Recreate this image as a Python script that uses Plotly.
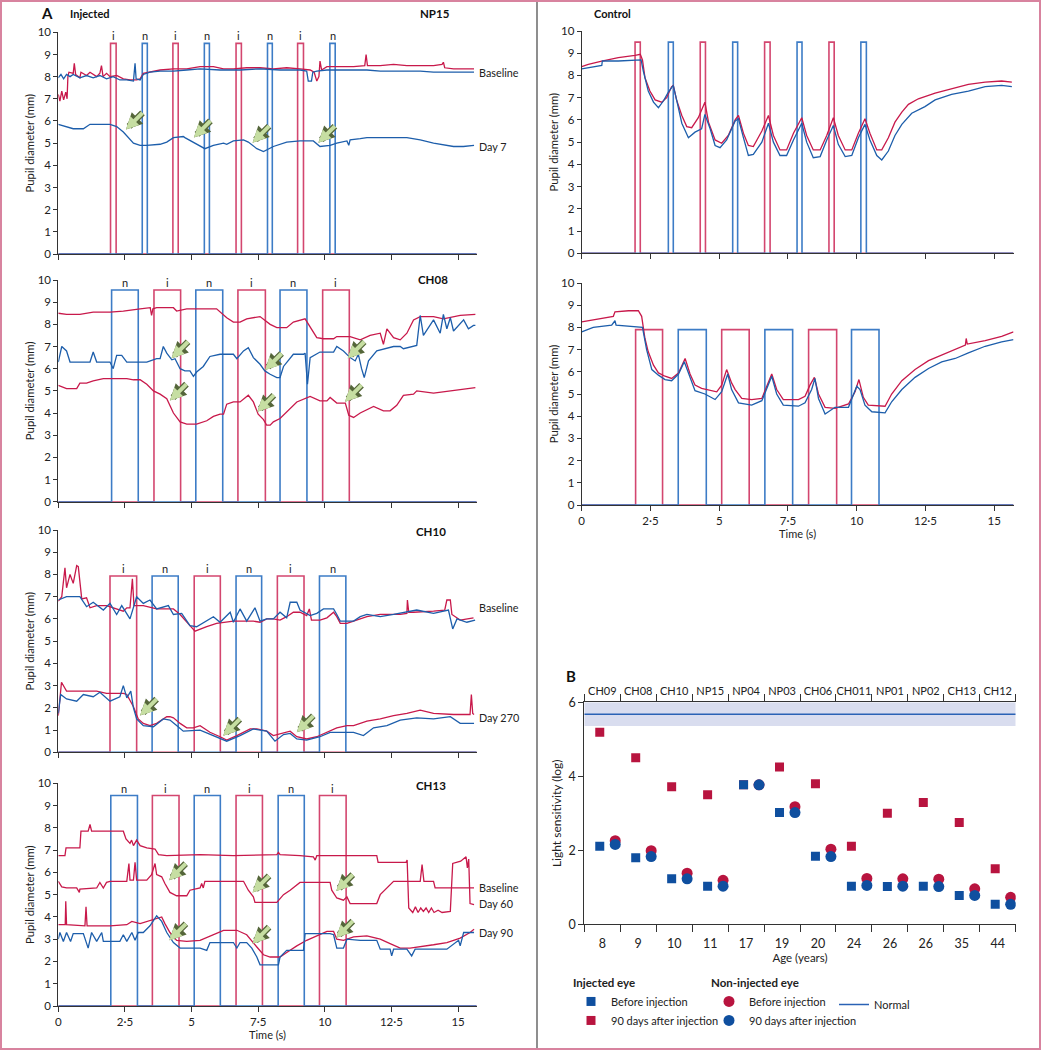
import plotly.graph_objects as go

# ---------------------------------------------------------------- data
TIME_TICKS = [0, 2.5, 5, 7.5, 10, 12.5, 15]
TIME_TICK_TEXT = ["0", "2·5", "5", "7·5", "10", "12·5", "15"]
T_MAX = 15.7

# stimulus pulses: (eye, onset s, offset s)
NP15_STIM = [("i", 1.96, 2.17), ("n", 3.15, 3.34), ("i", 4.30, 4.50), ("n", 5.48, 5.67),
             ("i", 6.67, 6.87), ("n", 7.85, 8.03), ("i", 8.98, 9.20), ("n", 10.19, 10.39)]
CH08_STIM = [("n", 2.00, 3.00), ("i", 3.59, 4.59), ("n", 5.16, 6.17), ("i", 6.74, 7.77),
             ("n", 8.32, 9.33), ("i", 9.92, 10.92)]
CH10_STIM = [("i", 1.94, 2.94), ("n", 3.52, 4.50), ("i", 5.10, 6.08), ("n", 6.67, 7.63),
             ("i", 8.22, 9.22), ("n", 9.80, 10.79)]
CH13_STIM = [("n", 1.97, 2.97), ("i", 3.53, 4.53), ("n", 5.10, 6.08), ("i", 6.67, 7.66),
             ("n", 8.25, 9.23), ("i", 9.80, 10.80)]
CTRL1_STIM = [("i", 1.94, 2.13), ("n", 3.15, 3.33), ("i", 4.31, 4.50), ("n", 5.49, 5.67),
              ("i", 6.65, 6.85), ("n", 7.83, 8.01), ("i", 8.99, 9.18), ("n", 10.15, 10.35)]
CTRL2_STIM = [("i", 1.96, 2.94), ("n", 3.51, 4.53), ("i", 5.09, 6.09), ("n", 6.66, 7.67),
              ("i", 8.25, 9.27), ("n", 9.81, 10.81)]
STIM_HEIGHT = {"NP15": 9.5, "CH08": 9.55, "CH10": 7.93, "CH13": 9.45, "CTRL1": 9.5, "CTRL2": 7.9}

# pupil traces: (time s, diameter mm)
NP15_BASELINE_RED = [(0, 7.2), (0.06, 6.9), (0.13, 7.35), (0.2, 6.95), (0.28, 7.3), (0.33, 7.0), (0.36, 8.0),
    (0.4, 8.2), (0.56, 8.15), (0.6, 8.6), (0.65, 8.1), (0.81, 7.95), (0.85, 8.2), (1.06, 8.05), (1.19, 8.2),
    (1.31, 8.1), (1.44, 8.0), (1.56, 8.15), (1.62, 8.5), (1.68, 8.0), (1.81, 8.15), (1.94, 8.0), (2.19, 8.05),
    (2.44, 7.9), (2.69, 7.85), (2.94, 7.85), (3.07, 7.9), (3.19, 8.15), (3.44, 8.2), (3.82, 8.3), (4.32, 8.35),
    (4.82, 8.35), (5.32, 8.45), (5.82, 8.45), (6.2, 8.35), (6.57, 8.35), (7.07, 8.4), (7.57, 8.4), (8.07, 8.35),
    (8.57, 8.4), (9.07, 8.35), (9.45, 8.3), (9.6, 8.2), (9.7, 7.8), (9.78, 8.0), (9.82, 8.7), (9.88, 8.3),
    (10.08, 8.45), (10.58, 8.45), (11.08, 8.45), (11.5, 8.5), (11.55, 9.0), (11.6, 8.5), (12.08, 8.5),
    (12.58, 8.55), (13.08, 8.5), (13.58, 8.5), (14.08, 8.5), (14.4, 8.55), (14.45, 8.65), (14.5, 8.4),
    (14.83, 8.35), (15.21, 8.35), (15.6, 8.35)]
NP15_BASELINE_BLUE = [(0, 7.95), (0.1, 8.1), (0.2, 7.9), (0.31, 8.1), (0.44, 8.0), (0.56, 8.1), (0.81, 7.95),
    (1.06, 8.05), (1.31, 7.95), (1.56, 8.05), (1.81, 7.9), (2.06, 8.0), (2.31, 7.85), (2.57, 7.85), (2.82, 7.8),
    (2.88, 8.6), (2.92, 7.9), (3.07, 7.85), (3.19, 8.1), (3.44, 8.2), (3.82, 8.25), (4.32, 8.25), (4.82, 8.3),
    (5.32, 8.35), (6.07, 8.3), (6.82, 8.3), (7.57, 8.35), (8.32, 8.3), (9.07, 8.3), (9.32, 8.25), (9.38, 7.8),
    (9.5, 7.8), (9.55, 8.2), (9.7, 8.25), (10.08, 8.3), (10.58, 8.3), (11.08, 8.3), (11.58, 8.3), (12.08, 8.25),
    (12.58, 8.25), (13.08, 8.25), (13.58, 8.25), (14.08, 8.2), (14.71, 8.2), (15.6, 8.2)]
NP15_DAY7_BLUE = [(0, 5.85), (0.31, 5.75), (0.56, 5.65), (0.94, 5.65), (1.19, 5.85), (1.94, 5.85), (2.19, 5.75),
    (2.44, 5.5), (2.82, 5.0), (3.07, 4.9), (3.32, 4.9), (3.82, 4.95), (4.07, 5.05), (4.32, 5.25), (4.69, 5.3),
    (4.75, 5.25), (5.19, 4.95), (5.5, 4.75), (5.82, 4.9), (6.2, 5.0), (6.32, 4.95), (6.57, 5.1), (6.95, 5.15),
    (7.13, 5.05), (7.45, 4.75), (7.7, 4.62), (8.07, 4.85), (8.57, 5.05), (9.07, 5.1), (9.57, 5.1), (9.82, 4.85),
    (10.2, 4.9), (10.45, 5.0), (10.83, 5.1), (10.9, 4.9), (10.95, 5.15), (11.33, 5.2), (11.58, 5.25),
    (12.08, 5.25), (13.08, 5.25), (13.58, 5.15), (14.08, 5.0), (14.83, 4.85), (15.2, 4.85), (15.6, 4.9)]

CH08_TOP_RED = [(0, 8.5), (0.31, 8.45), (0.81, 8.45), (1.31, 8.55), (1.94, 8.55), (2.44, 8.6), (3.07, 8.7),
    (3.45, 8.75), (3.5, 8.4), (3.55, 8.7), (3.69, 8.75), (4.32, 8.75), (4.44, 8.6), (4.82, 8.7), (5.94, 8.7),
    (6.07, 8.55), (6.32, 8.3), (6.57, 8.1), (6.82, 8.1), (7.07, 8.25), (7.57, 8.35), (7.95, 8.0), (8.2, 7.85),
    (8.57, 7.85), (8.82, 8.1), (9.26, 8.25), (9.5, 7.8), (9.7, 7.4), (9.95, 7.35), (10.33, 7.35), (10.45, 7.45),
    (10.95, 7.45), (11.33, 7.3), (11.7, 7.5), (12.08, 7.6), (12.2, 7.1), (12.33, 7.8), (12.58, 7.4),
    (12.83, 7.3), (13.08, 7.6), (13.33, 8.2), (13.58, 8.35), (14.08, 8.35), (14.45, 8.25), (15.08, 8.4),
    (15.65, 8.45)]
CH08_MID_BLUE = [(0, 6.3), (0.13, 7.0), (0.31, 6.8), (0.44, 6.3), (1.19, 6.3), (1.31, 6.75), (1.44, 6.3),
    (1.94, 6.3), (2.06, 6.0), (2.19, 6.6), (2.38, 6.6), (2.57, 6.3), (3.32, 6.3), (3.69, 6.45), (3.82, 6.45),
    (3.94, 7.0), (4.07, 6.7), (4.26, 6.4), (4.38, 6.45), (4.57, 6.0), (4.75, 5.9), (4.94, 5.9), (5.07, 5.65),
    (5.19, 5.85), (5.44, 6.1), (5.69, 6.55), (6.07, 6.65), (6.57, 6.65), (6.7, 6.45), (6.95, 6.8), (7.13, 6.95),
    (7.32, 6.5), (7.57, 6.2), (7.75, 5.9), (7.95, 5.75), (8.2, 5.6), (8.32, 5.6), (8.45, 6.1), (8.82, 6.65),
    (9.2, 6.65), (9.26, 6.7), (9.35, 5.3), (9.45, 6.5), (9.82, 6.75), (10.33, 6.75), (10.45, 7.0), (10.7, 6.8),
    (10.95, 6.5), (11.14, 6.35), (11.26, 6.65), (11.38, 6.0), (11.48, 5.6), (11.64, 6.35), (11.95, 6.8),
    (12.58, 7.0), (12.83, 7.0), (12.95, 6.9), (13.45, 7.05), (13.58, 8.4), (13.7, 7.5), (14.08, 8.2),
    (14.33, 7.6), (14.45, 8.45), (14.58, 7.8), (14.71, 8.3), (14.83, 7.7), (15.21, 8.2), (15.39, 7.8),
    (15.58, 7.95), (15.65, 7.95)]
CH08_BOTTOM_RED = [(0, 5.25), (0.31, 5.1), (0.69, 5.1), (0.81, 5.35), (1.06, 5.35), (1.31, 5.45), (1.69, 5.55),
    (2.57, 5.55), (2.82, 5.5), (3.07, 5.5), (3.32, 5.3), (3.57, 5.0), (3.82, 4.85), (4.07, 4.65), (4.32, 4.0),
    (4.57, 3.6), (4.82, 3.5), (5.19, 3.5), (5.57, 3.65), (5.82, 3.85), (6.07, 3.95), (6.2, 3.95), (6.32, 4.4),
    (6.57, 4.5), (6.82, 4.5), (7.13, 4.8), (7.32, 4.5), (7.5, 3.95), (7.7, 3.7), (7.82, 3.45), (7.95, 3.45),
    (8.07, 3.6), (8.32, 3.75), (8.7, 4.2), (8.95, 4.5), (9.45, 4.75), (9.82, 4.55), (10.08, 4.55), (10.2, 4.7),
    (10.45, 4.45), (10.77, 4.45), (10.9, 3.9), (11.08, 3.8), (11.33, 4.0), (11.83, 4.3), (12.2, 4.1),
    (12.45, 4.1), (12.7, 4.35), (12.95, 4.8), (13.33, 4.85), (13.45, 5.0), (14.08, 4.9), (14.71, 5.0),
    (15.33, 5.1), (15.65, 5.15)]

CH10_BASELINE_RED = [(0, 6.8), (0.13, 7.0), (0.25, 8.3), (0.31, 7.4), (0.44, 8.0), (0.56, 7.6), (0.69, 8.4),
    (0.75, 8.35), (0.88, 6.9), (1.06, 6.95), (1.19, 6.5), (1.44, 6.6), (1.81, 6.6), (2.06, 6.5), (2.44, 6.35),
    (2.57, 6.5), (2.69, 6.5), (2.78, 7.8), (2.84, 6.6), (3.19, 6.6), (3.69, 6.45), (4.32, 6.45), (4.57, 6.2),
    (4.94, 5.7), (5.13, 5.45), (5.57, 5.65), (5.94, 5.8), (6.57, 5.9), (7.32, 5.9), (7.57, 5.85), (7.82, 6.0),
    (8.07, 6.0), (8.32, 5.95), (8.57, 6.1), (8.82, 6.3), (9.07, 6.3), (9.32, 6.15), (9.42, 6.45), (9.5, 5.95),
    (9.82, 5.95), (10.08, 6.05), (10.33, 6.3), (10.45, 6.1), (10.58, 5.8), (10.83, 5.8), (11.08, 5.9),
    (11.58, 6.1), (12.08, 6.2), (12.83, 6.2), (13.08, 6.25), (13.1, 6.85), (13.15, 6.3), (13.33, 6.3),
    (14.08, 6.35), (14.5, 6.4), (14.58, 6.85), (14.71, 6.85), (14.77, 6.2), (15.08, 5.95), (15.58, 6.05)]
CH10_BASELINE_BLUE = [(0, 6.85), (0.31, 7.0), (0.81, 7.0), (1.06, 6.55), (1.31, 6.75), (1.69, 6.4), (1.94, 6.7),
    (2.19, 6.2), (2.38, 6.6), (2.69, 6.0), (2.94, 7.0), (3.19, 6.7), (3.44, 6.85), (3.69, 6.45), (4.13, 6.6),
    (4.32, 6.2), (4.63, 6.25), (4.94, 5.7), (5.19, 5.65), (5.57, 5.9), (5.82, 6.1), (6.07, 5.85), (6.45, 6.3),
    (6.57, 5.85), (6.82, 6.45), (7.07, 5.9), (7.38, 6.5), (7.57, 5.9), (7.82, 6.0), (8.07, 6.0), (8.32, 6.3),
    (8.57, 6.05), (8.7, 6.75), (8.95, 6.75), (9.07, 6.4), (9.45, 6.15), (9.7, 6.25), (9.95, 6.45),
    (10.33, 6.45), (10.45, 6.2), (10.58, 5.9), (11.08, 5.9), (11.33, 6.1), (11.58, 6.2), (12.08, 6.1),
    (12.58, 6.2), (13.08, 6.3), (13.45, 6.4), (14.08, 6.25), (14.64, 6.4), (14.8, 5.55), (14.96, 6.0),
    (15.33, 5.85), (15.64, 5.95)]
CH10_DAY270_RED = [(0, 1.65), (0.12, 3.15), (0.31, 2.75), (0.94, 2.75), (1.44, 2.75), (1.81, 2.65),
    (2.44, 2.65), (2.57, 2.6), (2.82, 2.05), (3.0, 1.5), (3.19, 1.3), (3.44, 1.2), (3.69, 1.3), (4.07, 1.6),
    (4.19, 1.6), (4.32, 1.55), (4.57, 1.3), (4.82, 1.1), (5.07, 1.1), (5.32, 1.2), (5.69, 0.9), (6.07, 0.7),
    (6.32, 0.55), (6.7, 0.75), (7.2, 1.05), (7.45, 1.05), (7.82, 0.95), (8.07, 0.75), (8.45, 0.85), (8.7, 0.95),
    (8.95, 0.7), (9.32, 0.6), (9.7, 0.7), (10.08, 0.9), (10.45, 1.1), (10.83, 1.2), (11.08, 1.2), (11.58, 1.4),
    (12.08, 1.5), (12.58, 1.65), (13.08, 1.75), (13.58, 1.9), (14.08, 1.75), (14.83, 1.7), (15.45, 1.7),
    (15.5, 2.6), (15.55, 1.75), (15.6, 1.7)]
CH10_DAY270_BLUE = [(0, 1.75), (0.09, 2.6), (0.31, 2.4), (0.69, 2.3), (0.94, 2.6), (1.31, 2.5), (1.56, 2.7),
    (1.94, 2.3), (2.31, 2.5), (2.44, 3.0), (2.57, 2.45), (2.72, 2.75), (2.82, 2.0), (2.94, 1.5), (3.19, 1.2),
    (3.57, 1.15), (3.94, 1.5), (4.19, 1.45), (4.44, 1.2), (4.69, 0.95), (5.32, 1.0), (5.82, 0.75), (6.07, 0.6),
    (6.32, 0.5), (6.82, 0.75), (7.32, 1.05), (7.82, 0.95), (8.13, 0.5), (8.45, 0.8), (8.7, 0.85), (8.95, 0.6),
    (9.32, 0.55), (9.82, 0.7), (10.2, 0.9), (11.08, 0.9), (11.45, 0.75), (11.83, 1.1), (12.33, 1.2),
    (12.83, 1.45), (13.45, 1.55), (14.08, 1.5), (14.71, 1.6), (15.08, 1.3), (15.6, 1.3)]

CH13_UPPER_RED = [(0, 6.75), (0.25, 6.75), (0.29, 7.1), (0.81, 7.1), (0.85, 7.85), (1.12, 7.85), (1.19, 8.15),
    (1.25, 7.85), (2.44, 7.85), (2.54, 7.5), (2.69, 7.3), (2.75, 7.45), (2.82, 7.2), (2.94, 7.45), (3.07, 7.2),
    (3.32, 7.1), (3.63, 7.05), (3.76, 6.8), (4.07, 6.75), (5.32, 6.8), (6.57, 6.75), (8.2, 6.8), (8.26, 6.9),
    (8.32, 6.8), (9.07, 6.75), (9.57, 6.7), (9.64, 6.55), (9.7, 6.75), (10.33, 6.75), (11.95, 6.75),
    (12.0, 6.45), (13.05, 6.45), (13.09, 6.55), (13.15, 4.4), (13.3, 4.2), (13.4, 4.45), (13.5, 4.2),
    (13.6, 4.4), (13.7, 4.25), (13.8, 4.4), (13.9, 4.2), (14.0, 4.4), (14.1, 4.2), (14.25, 4.3), (14.4, 4.2),
    (14.71, 4.25), (14.8, 6.4), (15.1, 6.5), (15.3, 6.7), (15.35, 6.2), (15.4, 6.6), (15.45, 4.6), (15.6, 4.55)]
CH13_MIDDLE_RED = [(0, 5.6), (0.13, 5.35), (0.31, 5.3), (0.69, 5.3), (0.79, 5.1), (0.81, 5.25), (1.44, 5.3),
    (1.56, 5.55), (1.69, 5.3), (1.81, 5.55), (1.94, 5.6), (2.57, 5.6), (2.65, 6.4), (2.69, 5.65), (2.82, 5.65),
    (2.88, 6.45), (2.94, 5.65), (3.32, 5.65), (3.5, 5.9), (3.63, 6.4), (3.69, 5.9), (3.88, 5.8), (4.0, 5.5),
    (4.19, 5.1), (4.44, 4.95), (4.82, 4.95), (4.94, 5.2), (5.32, 5.3), (5.38, 5.5), (5.44, 5.3), (5.5, 5.6),
    (6.57, 5.6), (6.95, 5.6), (7.13, 5.2), (7.32, 4.9), (7.38, 4.65), (8.2, 4.65), (8.45, 5.0), (8.7, 5.2),
    (9.07, 5.55), (9.82, 5.55), (10.2, 5.55), (10.26, 5.2), (10.45, 4.85), (10.7, 4.75), (10.83, 4.9),
    (10.95, 4.6), (11.95, 4.6), (12.08, 5.0), (12.33, 5.3), (12.58, 5.6), (13.58, 5.6), (13.65, 6.35),
    (13.72, 5.6), (14.08, 5.6), (14.14, 5.3), (15.6, 5.3)]
CH13_DAY90_RED = [(0, 3.65), (0.26, 3.65), (0.28, 4.7), (0.31, 3.65), (1.0, 3.6), (1.04, 4.45), (1.08, 3.6),
    (1.94, 3.6), (2.57, 3.65), (2.76, 3.8), (3.07, 3.7), (3.32, 3.8), (3.63, 3.9), (3.88, 4.0), (4.0, 3.7),
    (4.19, 3.3), (4.44, 2.95), (4.82, 2.9), (5.32, 2.95), (5.82, 3.2), (6.2, 3.4), (6.7, 3.4), (7.07, 3.2),
    (7.45, 2.65), (7.7, 2.3), (7.95, 2.2), (8.32, 2.2), (8.57, 2.4), (8.95, 2.7), (9.32, 2.95), (9.7, 3.15),
    (10.08, 3.35), (10.33, 3.35), (10.45, 3.0), (10.7, 2.95), (11.08, 3.1), (11.58, 3.15), (12.08, 3.0),
    (12.45, 2.8), (12.83, 2.6), (13.2, 2.6), (13.58, 2.65), (14.08, 2.75), (14.58, 2.85), (15.08, 3.05),
    (15.45, 3.3), (15.6, 3.45)]
CH13_DAY90_BLUE = [(0, 3.0), (0.06, 3.3), (0.19, 2.9), (0.31, 3.3), (0.46, 2.9), (0.56, 3.25), (0.94, 3.25),
    (1.12, 2.6), (1.25, 3.3), (1.44, 2.9), (1.63, 3.3), (1.69, 2.9), (2.31, 2.9), (2.44, 3.2), (2.57, 2.9),
    (2.76, 3.3), (2.88, 2.95), (3.0, 3.3), (3.19, 3.3), (3.44, 3.6), (3.69, 4.05), (3.88, 3.8), (4.07, 3.3),
    (4.32, 2.85), (4.57, 2.6), (5.32, 2.6), (5.57, 2.5), (5.69, 2.85), (6.57, 2.85), (6.7, 2.6), (6.82, 2.85),
    (7.07, 2.85), (7.26, 2.6), (7.45, 2.2), (7.57, 1.85), (8.26, 1.85), (8.32, 2.2), (8.57, 2.5), (9.2, 2.5),
    (9.26, 3.25), (10.2, 3.25), (10.33, 3.2), (10.45, 2.6), (10.7, 2.6), (10.83, 3.0), (11.33, 2.95),
    (11.95, 2.95), (12.08, 2.55), (12.45, 2.55), (12.51, 2.25), (12.58, 2.55), (13.08, 2.55), (13.26, 2.25),
    (13.39, 2.55), (14.58, 2.55), (15.02, 2.95), (15.08, 2.7), (15.21, 3.3), (15.6, 3.3)]

CTRL1_RED = [(0, 8.4), (0.24, 8.5), (0.73, 8.65), (1.33, 8.8), (1.94, 8.9), (2.13, 8.95), (2.21, 8.7),
    (2.3, 7.9), (2.48, 7.3), (2.67, 6.9), (2.91, 6.8), (3.09, 7.0), (3.27, 7.5), (3.33, 7.55), (3.45, 6.9),
    (3.64, 6.2), (3.82, 5.7), (4.0, 5.65), (4.24, 6.1), (4.48, 6.8), (4.61, 5.9), (4.85, 5.1), (5.09, 4.95),
    (5.33, 5.3), (5.58, 6.0), (5.7, 6.2), (5.88, 5.4), (6.06, 4.85), (6.24, 4.8), (6.55, 5.5), (6.79, 6.2),
    (6.97, 5.3), (7.21, 4.65), (7.45, 4.65), (7.7, 5.4), (8.0, 6.1), (8.18, 5.3), (8.42, 4.65), (8.67, 4.65),
    (8.91, 5.3), (9.15, 6.1), (9.33, 5.3), (9.58, 4.65), (9.82, 4.65), (10.06, 5.4), (10.3, 6.05),
    (10.48, 5.4), (10.73, 4.65), (10.91, 4.65), (11.15, 5.2), (11.39, 5.9), (11.64, 6.35), (11.88, 6.7),
    (12.24, 6.95), (12.85, 7.2), (13.45, 7.4), (14.06, 7.6), (14.67, 7.7), (15.27, 7.75), (15.64, 7.7)]
CTRL1_BLUE = [(0, 8.3), (0.73, 8.45), (0.75, 8.65), (1.33, 8.65), (2.16, 8.7), (2.24, 8.2), (2.42, 7.3),
    (2.61, 6.8), (2.79, 6.55), (2.97, 6.85), (3.15, 7.25), (3.33, 7.55), (3.45, 6.9), (3.64, 5.85), (3.88, 5.2),
    (4.12, 5.45), (4.36, 5.6), (4.48, 6.25), (4.67, 5.6), (4.85, 4.85), (5.03, 4.75), (5.27, 5.1), (5.58, 5.95),
    (5.7, 6.05), (5.88, 5.2), (6.06, 4.4), (6.24, 4.45), (6.55, 5.0), (6.79, 5.85), (6.97, 5.0), (7.21, 4.4),
    (7.45, 4.4), (7.7, 5.1), (8.0, 5.85), (8.18, 5.0), (8.42, 4.3), (8.67, 4.35), (8.91, 5.1), (9.15, 5.75),
    (9.33, 4.9), (9.58, 4.35), (9.82, 4.4), (10.06, 5.2), (10.3, 5.8), (10.48, 5.1), (10.73, 4.4),
    (10.91, 4.2), (11.15, 4.6), (11.39, 5.3), (11.64, 5.8), (12.0, 6.3), (12.48, 6.6), (12.85, 6.9),
    (13.45, 7.15), (14.06, 7.3), (14.67, 7.5), (15.27, 7.55), (15.64, 7.5)]
CTRL2_RED = [(0, 8.25), (0.73, 8.4), (1.15, 8.5), (1.21, 8.7), (1.7, 8.75), (2.06, 8.75), (2.18, 8.5),
    (2.3, 7.5), (2.42, 6.9), (2.61, 6.3), (2.79, 5.95), (3.03, 5.8), (3.27, 5.7), (3.52, 5.95), (3.7, 6.4),
    (3.76, 6.6), (3.94, 5.9), (4.12, 5.4), (4.36, 5.25), (4.73, 5.15), (4.91, 5.1), (5.09, 5.4), (5.27, 6.1),
    (5.45, 5.5), (5.58, 5.2), (5.82, 4.8), (6.18, 4.75), (6.55, 4.8), (6.79, 5.5), (6.91, 5.9), (7.09, 5.2),
    (7.33, 4.75), (7.88, 4.75), (8.12, 4.9), (8.3, 5.4), (8.46, 5.75), (8.61, 5.0), (8.85, 4.4), (9.21, 4.35),
    (9.7, 4.55), (9.94, 5.1), (10.08, 5.65), (10.24, 4.85), (10.42, 4.5), (11.03, 4.45), (11.27, 5.0),
    (11.64, 5.6), (12.12, 6.1), (12.61, 6.5), (13.09, 6.75), (13.58, 7.0), (13.95, 7.2), (13.98, 7.5),
    (14.02, 7.25), (14.67, 7.4), (15.27, 7.6), (15.7, 7.8)]
CTRL2_BLUE = [(0, 7.8), (0.42, 8.0), (1.09, 8.1), (1.21, 8.3), (1.25, 8.1), (1.94, 8.05), (2.21, 8.0),
    (2.36, 7.0), (2.55, 6.1), (2.79, 5.85), (3.03, 5.65), (3.27, 5.6), (3.52, 5.9), (3.73, 6.45), (3.94, 5.7),
    (4.12, 5.15), (4.48, 5.0), (4.85, 4.75), (5.09, 5.1), (5.31, 5.9), (5.45, 5.2), (5.7, 4.6), (6.18, 4.5),
    (6.55, 4.7), (6.91, 5.8), (7.09, 5.0), (7.33, 4.5), (7.88, 4.45), (8.12, 4.6), (8.36, 5.2), (8.48, 5.7),
    (8.61, 4.8), (8.85, 4.1), (9.21, 4.4), (9.7, 4.4), (10.0, 5.35), (10.12, 5.2), (10.3, 4.5), (10.55, 4.2),
    (11.03, 4.15), (11.27, 4.65), (11.64, 5.2), (12.12, 5.75), (12.61, 6.15), (13.09, 6.45), (13.58, 6.6),
    (14.06, 6.85), (14.67, 7.15), (15.27, 7.35), (15.7, 7.45)]

# arrow tips (time s, diameter mm)
NP15_ARROWS = [(2.54, 5.62), (5.09, 5.26), (7.29, 5.02), (9.76, 5.02)]
CH08_ARROWS = [(4.25, 6.47), (7.76, 5.94), (10.86, 6.47), (4.19, 4.56), (7.47, 4.06), (10.76, 4.51)]
CH10_ARROWS = [(3.07, 1.65), (6.19, 0.75), (8.95, 0.9)]
CH13_ARROWS = [(4.16, 5.65), (7.29, 5.1), (10.43, 5.16), (4.17, 2.95), (7.29, 2.8), (10.43, 3.07)]

# end-of-trace labels: (text, diameter mm)
NP15_END_LABELS = [("Baseline", 8.2), ("Day 7", 4.83)]
CH10_END_LABELS = [("Baseline", 6.52), ("Day 270", 1.55)]
CH13_END_LABELS = [("Baseline", 5.3), ("Day 60", 4.62), ("Day 90", 3.32)]

# panel B
PATIENTS = ["CH09", "CH08", "CH10", "NP15", "NP04", "NP03", "CH06", "CH011", "NP01", "NP02", "CH13", "CH12"]
AGES = ["8", "9", "10", "11", "17", "19", "20", "24", "26", "26", "35", "44"]
INJ_BEFORE = [2.11, 1.80, 1.23, 1.03, 3.77, 3.02, 1.84, 1.03, 1.02, 1.03, 0.78, 0.54]
INJ_90D = [5.19, 4.50, 3.72, 3.50, 3.77, 4.25, 3.80, 2.11, 3.00, 3.29, 2.75, 1.50]
NONINJ_BEFORE = [2.26, 1.99, 1.38, 1.19, 3.77, 3.18, 2.03, 1.24, 1.23, 1.22, 0.96, 0.73]
NONINJ_90D = [2.16, 1.83, 1.23, 1.03, 3.77, 3.02, 1.83, 1.05, 1.03, 1.02, 0.78, 0.54]
NORMAL_LOW, NORMAL_MEAN, NORMAL_HIGH = 5.36, 5.68, 6.0

# ---------------------------------------------------------------- style
W, H = 1041, 1050
RED = "#c8194b"
BLUE = "#1d5eab"
RED_STIM = "#d3466f"
BLUE_STIM = "#3d7cc6"
AXIS = "#333333"
TXT = "#222222"
FONT = "Lato"
ARROW_FILL = "#c6dea2"
ARROW_EDGE = "#55663a"


def px(x):
    return x / W


def py(y):
    return 1 - y / H


LEFT_X = [px(58.3), px(476.7)]
RIGHT_X = [px(581.7), px(1013.5)]
B_X = [px(584.3), px(1015.7)]

fig = go.Figure()
annotations = []


def add_stim(stim, height, xa, ya, labels):
    for eye, col in (("i", RED_STIM), ("n", BLUE_STIM)):
        xs, ys = [0], [0]
        for e, on, off in stim:
            if e != eye:
                continue
            xs += [on, on, off, off]
            ys += [0, height, height, 0]
        xs.append(T_MAX)
        ys.append(0)
        fig.add_trace(go.Scatter(x=xs, y=ys, mode="lines", line=dict(color=col, width=1.6),
                                 xaxis=xa, yaxis=ya, showlegend=False, hoverinfo="skip"))
    if labels:
        for e, on, off in stim:
            annotations.append(dict(x=(on + off) / 2, y=height, xref=xa, yref=ya, text=e,
                                    showarrow=False, yanchor="bottom", yshift=-1,
                                    font=dict(size=11, color=TXT, family=FONT)))


def add_line(series, color, xa, ya):
    fig.add_trace(go.Scatter(x=[p[0] for p in series], y=[p[1] for p in series], mode="lines",
                             line=dict(color=color, width=1.3), xaxis=xa, yaxis=ya,
                             showlegend=False, hoverinfo="skip"))


def add_arrows(tips, xa, ya):
    for t, v in tips:
        for col, w, s in ((ARROW_EDGE, 6.5, 0.5), (ARROW_FILL, 4, 0.62)):
            annotations.append(dict(x=t, y=v, xref=xa, yref=ya, ax=18, ay=-18, showarrow=True,
                                    arrowhead=2, arrowsize=s, arrowwidth=w, arrowcolor=col,
                                    standoff=0, text=""))


def add_end_labels(labels, xa, ya):
    for text, v in labels:
        annotations.append(dict(x=T_MAX, y=v, xref=xa, yref=ya, text=text, showarrow=False,
                                xanchor="left", xshift=0, font=dict(size=10.8, color=TXT, family=FONT)))


PANELS = [
    ("x", "y", "NP15", NP15_STIM, True, [(NP15_BASELINE_RED, RED), (NP15_BASELINE_BLUE, BLUE), (NP15_DAY7_BLUE, BLUE)],
     NP15_ARROWS, NP15_END_LABELS),
    ("x2", "y2", "CH08", CH08_STIM, True, [(CH08_TOP_RED, RED), (CH08_MID_BLUE, BLUE), (CH08_BOTTOM_RED, RED)],
     CH08_ARROWS, []),
    ("x3", "y3", "CH10", CH10_STIM, True, [(CH10_BASELINE_RED, RED), (CH10_BASELINE_BLUE, BLUE),
                                           (CH10_DAY270_RED, RED), (CH10_DAY270_BLUE, BLUE)],
     CH10_ARROWS, CH10_END_LABELS),
    ("x4", "y4", "CH13", CH13_STIM, True, [(CH13_UPPER_RED, RED), (CH13_MIDDLE_RED, RED),
                                           (CH13_DAY90_RED, RED), (CH13_DAY90_BLUE, BLUE)],
     CH13_ARROWS, CH13_END_LABELS),
    ("x5", "y5", "CTRL1", CTRL1_STIM, False, [(CTRL1_RED, RED), (CTRL1_BLUE, BLUE)], [], []),
    ("x6", "y6", "CTRL2", CTRL2_STIM, False, [(CTRL2_RED, RED), (CTRL2_BLUE, BLUE)], [], []),
]

for xa, ya, key, stim, lab, lines, arrows, ends in PANELS:
    add_stim(stim, STIM_HEIGHT[key], xa, ya, lab)
    for series, col in lines:
        add_line(series, col, xa, ya)
    add_arrows(arrows, xa, ya)
    add_end_labels(ends, xa, ya)

# ---- panel B traces
centers = [i + 0.5 for i in range(len(PATIENTS))]
SQ_OFF, CI_OFF = 0.43, 0.86
sq_x = [i + SQ_OFF for i in range(len(PATIENTS))]
ci_x = [i + CI_OFF for i in range(len(PATIENTS))]

fig.add_trace(go.Scatter(x=[0, len(PATIENTS), len(PATIENTS), 0], y=[NORMAL_LOW, NORMAL_LOW, NORMAL_HIGH, NORMAL_HIGH],
                         fill="toself", fillcolor="#d9ddef", line=dict(width=0), mode="lines",
                         xaxis="x7", yaxis="y7", showlegend=False, hoverinfo="skip"))
fig.add_trace(go.Scatter(x=[0, len(PATIENTS)], y=[NORMAL_MEAN, NORMAL_MEAN], mode="lines",
                         line=dict(color="#2a62b5", width=1.5), xaxis="x7", yaxis="y7",
                         name="Normal", legend="legend3"))
fig.add_trace(go.Scatter(x=sq_x, y=INJ_90D, mode="markers", marker=dict(symbol="square", size=9, color="#b8143f"),
                         xaxis="x7", yaxis="y7", name="90 days after injection", legend="legend", legendrank=2))
fig.add_trace(go.Scatter(x=sq_x, y=INJ_BEFORE, mode="markers", marker=dict(symbol="square", size=9, color="#0f4f9f"),
                         xaxis="x7", yaxis="y7", name="Before injection", legend="legend", legendrank=1))
fig.add_trace(go.Scatter(x=ci_x, y=NONINJ_BEFORE, mode="markers", marker=dict(symbol="circle", size=11, color="#b8143f"),
                         xaxis="x7", yaxis="y7", name="Before injection", legend="legend2", legendrank=1))
fig.add_trace(go.Scatter(x=ci_x, y=NONINJ_90D, mode="markers", marker=dict(symbol="circle", size=11, color="#0f4f9f"),
                         xaxis="x7", yaxis="y7", name="90 days after injection", legend="legend2", legendrank=2))
# top (patient) axis carrier
fig.add_trace(go.Scatter(x=centers, y=[None] * len(centers), mode="markers", xaxis="x8", yaxis="y7",
                         showlegend=False, hoverinfo="skip"))

# ---------------------------------------------------------------- axes
tickfont = dict(size=11.5, color=TXT, family=FONT)
titlefont = dict(size=11.3, color=TXT, family=FONT)


def time_axis(domain, anchor, labels):
    d = dict(domain=domain, anchor=anchor, range=[0, T_MAX], showline=True, linecolor=AXIS, linewidth=1,
             ticks="outside", ticklen=5, tickcolor=AXIS, tickvals=TIME_TICKS, ticktext=TIME_TICK_TEXT,
             showticklabels=labels, showgrid=False, zeroline=False, tickfont=tickfont, automargin=False)
    if labels:
        d["title"] = dict(text="Time (s)", font=dict(size=11, color=TXT, family=FONT), standoff=3)
    return d


def pupil_axis(domain, anchor):
    return dict(domain=domain, anchor=anchor, range=[0, 10], showline=True, linecolor=AXIS, linewidth=1,
                ticks="outside", ticklen=4, tickcolor=AXIS, dtick=1, tick0=0, showgrid=False, zeroline=False,
                tickfont=tickfont, automargin=False,
                title=dict(text="Pupil diameter (mm)", font=titlefont, standoff=0))


Y_DOMAINS = {
    "y": [py(254.0), py(32.3)],
    "y2": [py(501.7), py(280.0)],
    "y3": [py(752.3), py(530.0)],
    "y4": [py(1006.0), py(783.3)],
    "y5": [py(253.3), py(31.0)],
    "y6": [py(505.0), py(283.0)],
}

layout_axes = dict(
    xaxis=time_axis(LEFT_X, "y", False),
    xaxis2=time_axis(LEFT_X, "y2", False),
    xaxis3=time_axis(LEFT_X, "y3", False),
    xaxis4=time_axis(LEFT_X, "y4", True),
    xaxis5=time_axis(RIGHT_X, "y5", False),
    xaxis6=time_axis(RIGHT_X, "y6", True),
    yaxis=pupil_axis(Y_DOMAINS["y"], "x"),
    yaxis2=pupil_axis(Y_DOMAINS["y2"], "x2"),
    yaxis3=pupil_axis(Y_DOMAINS["y3"], "x3"),
    yaxis4=pupil_axis(Y_DOMAINS["y4"], "x4"),
    yaxis5=pupil_axis(Y_DOMAINS["y5"], "x5"),
    yaxis6=pupil_axis(Y_DOMAINS["y6"], "x6"),
    xaxis7=dict(domain=B_X, anchor="y7", range=[0, len(PATIENTS)], showline=True, linecolor=AXIS,
                tickvals=centers, ticktext=AGES, ticks="outside", ticklen=8, tickcolor="rgba(0,0,0,0)",
                minor=dict(tickvals=list(range(len(PATIENTS) + 1)), ticks="outside", ticklen=7, tickcolor=AXIS),
                showgrid=False, zeroline=False, tickfont=dict(size=12.5, color=TXT, family=FONT), automargin=False,
                tickangle=0,
                title=dict(text="Age (years)", font=dict(size=11.5, color=TXT, family=FONT), standoff=2)),
    xaxis8=dict(domain=B_X, anchor="y7", overlaying="x7", side="top", range=[0, len(PATIENTS)], showline=True,
                linecolor=AXIS, tickvals=centers, ticktext=PATIENTS, ticks="outside", ticklen=2,
                tickcolor="rgba(0,0,0,0)", tickangle=0,
                minor=dict(tickvals=list(range(len(PATIENTS) + 1)), ticks="outside", ticklen=7, tickcolor=AXIS),
                showgrid=False, zeroline=False, tickfont=dict(size=11, color=TXT, family=FONT), automargin=False),
    yaxis7=dict(domain=[py(924.3), py(702.3)], anchor="x7", range=[0, 6], tickvals=[0, 2, 4, 6], showline=True,
                linecolor=AXIS, ticks="outside", ticklen=5, tickcolor=AXIS, showgrid=False, zeroline=False,
                tickfont=dict(size=12.5, color=TXT, family=FONT), automargin=False,
                title=dict(text="Light sensitivity (log)", font=dict(size=12, color=TXT, family=FONT), standoff=4)),
)

# panel titles
for text, x, y, anchor, size in [("A", 47, 13, "center", 15), ("Injected", 68, 13, "left", 11),
                                 ("NP15", 452, 13, "right", 11.5), ("CH08", 450, 280, "right", 11.5),
                                 ("CH10", 448, 531, "right", 11.5), ("CH13", 448, 785, "right", 11.5),
                                 ("Control", 592, 13, "left", 11), ("B", 571, 676, "center", 15)]:
    annotations.append(dict(x=px(x), y=py(y), xref="paper", yref="paper", text=f"<b>{text}</b>",
                            showarrow=False, xanchor=anchor, yanchor="middle",
                            font=dict(size=size, color="#111111", family=FONT)))

legend_common = dict(font=dict(size=11, color=TXT, family=FONT), bgcolor="rgba(0,0,0,0)", itemwidth=30,
                     tracegroupgap=0, xanchor="left", yanchor="top", orientation="v")

fig.update_layout(
    width=W, height=H, margin=dict(l=0, r=0, t=0, b=0), plot_bgcolor="white", paper_bgcolor="white",
    font=dict(family=FONT, color=TXT),
    annotations=annotations,
    legend=dict(x=px(571), y=py(972), title=dict(text="<b>Injected eye</b>", font=dict(size=11.5, family=FONT)),
                **legend_common),
    legend2=dict(x=px(709), y=py(972), title=dict(text="<b>Non-injected eye</b>", font=dict(size=11.5, family=FONT)),
                 **legend_common),
    legend3=dict(x=px(834), y=py(990), **legend_common),
    shapes=[
        dict(type="line", xref="paper", yref="paper", x0=px(537), x1=px(537), y0=0, y1=1,
             line=dict(color="#444444", width=1.2)),
        dict(type="rect", xref="paper", yref="paper", x0=0, x1=1, y0=0, y1=1,
             line=dict(color="#d8839f", width=4)),
    ],
    **layout_axes,
)

fig.write_html("out.html", post_script="document.body.style.margin='0';",
               config={"displayModeBar": False})
